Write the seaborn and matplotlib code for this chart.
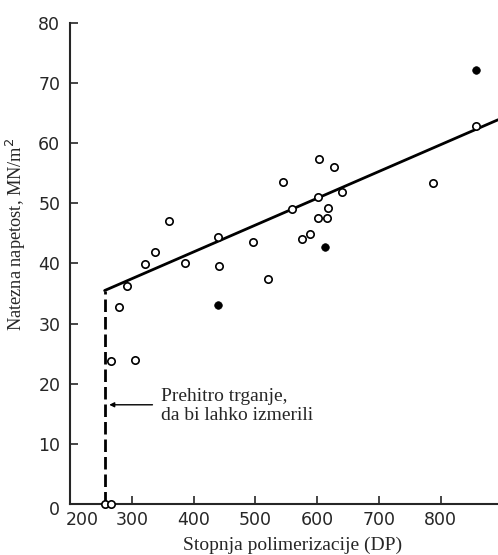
import matplotlib
matplotlib.use("Agg")
import matplotlib.pyplot as plt
import matplotlib.transforms as mtransforms
import seaborn as sns
import pandas as pd

# open circles (DP, tensile stress)
open_dp = [257, 266, 266, 279, 293, 305, 322, 337, 361, 386, 440, 441, 496, 521,
           545, 560, 575, 589, 601, 601, 603, 616, 617, 627, 641, 788, 857]
open_stress = [0.0, 0.0, 23.7, 32.7, 36.2, 24.0, 39.9, 41.9, 47.0, 40.0, 44.4, 39.5, 43.6, 37.5,
               53.6, 49.1, 44.1, 44.9, 47.5, 51.1, 57.3, 47.5, 49.2, 56.0, 51.9, 53.4, 62.8]
# filled circles
filled_dp = [440, 613, 858]
filled_stress = [33.1, 42.8, 72.2]
# fitted line
vert_dp = [256, 256]
vert_stress = [0, 35.5]
fit_dp = [256, 893]
fit_stress = [35.5, 63.9]

sns.set_style("ticks")
plt.rcParams['font.family'] = ['DejaVu Sans']

fig = plt.figure(figsize=(4.98, 5.55), dpi=100)
ax = fig.add_axes([0.1406, 0.0919, 0.8594, 0.8667])

ax.plot(vert_dp, vert_stress, color="black", lw=2, linestyle=(0, (4.5, 1.8)), zorder=2)
ax.plot(fit_dp, fit_stress, color="black", lw=2, zorder=2)

df_open = pd.DataFrame({"dp": open_dp, "stress": open_stress})
df_filled = pd.DataFrame({"dp": filled_dp, "stress": filled_stress})
sns.scatterplot(data=df_open, x="dp", y="stress", ax=ax, marker="o", s=28,
                facecolor="white", edgecolor="black", linewidth=1.2, zorder=3, clip_on=False)
sns.scatterplot(data=df_filled, x="dp", y="stress", ax=ax, marker="o", s=30,
                color="black", edgecolor="black", linewidth=0.5, zorder=3)

ax.annotate("", xy=(259, 16.5), xytext=(338, 16.5),
            arrowprops=dict(arrowstyle="-|>", color="black", lw=1, mutation_scale=7))
ax.text(347, 16.3, "Prehitro trganje,\nda bi lahko izmerili", fontsize=14,
        family="Liberation Serif", va="center", ha="left", linespacing=1.1)

ax.set_xlim(200, 893)
ax.set_ylim(0, 80)
ax.set_xticks([200, 300, 400, 500, 600, 700, 800])
ax.set_yticks([0, 10, 20, 30, 40, 50, 60, 70, 80])
ax.tick_params(direction="in", length=6, width=1.2, labelsize=12.5, pad=5)
ax.tick_params(axis="y", pad=7)
for s in ["left", "bottom"]:
    ax.spines[s].set_linewidth(1.5)
ax.spines["top"].set_visible(False)
ax.spines["right"].set_visible(False)

# nudge the "200" label right so it clears the "0"
fig.canvas.draw()
lbl = ax.get_xticklabels()[0]
lbl.set_transform(lbl.get_transform() + mtransforms.ScaledTranslation(0.12, 0, fig.dpi_scale_trans))
ylbl = ax.get_yticklabels()[0]
ylbl.set_transform(ylbl.get_transform() + mtransforms.ScaledTranslation(0, -0.04, fig.dpi_scale_trans))

ax.set_xlabel("Stopnja polimerizacije (DP)", fontsize=14, family="Liberation Serif")
ax.set_ylabel("Natezna napetost, MN/m$^2$", fontsize=13.2, family="Liberation Serif")
ax.xaxis.set_label_coords(0.521, -0.068)
ax.yaxis.set_label_coords(-0.098, 0.56)

fig.savefig("out.png", dpi=100)
